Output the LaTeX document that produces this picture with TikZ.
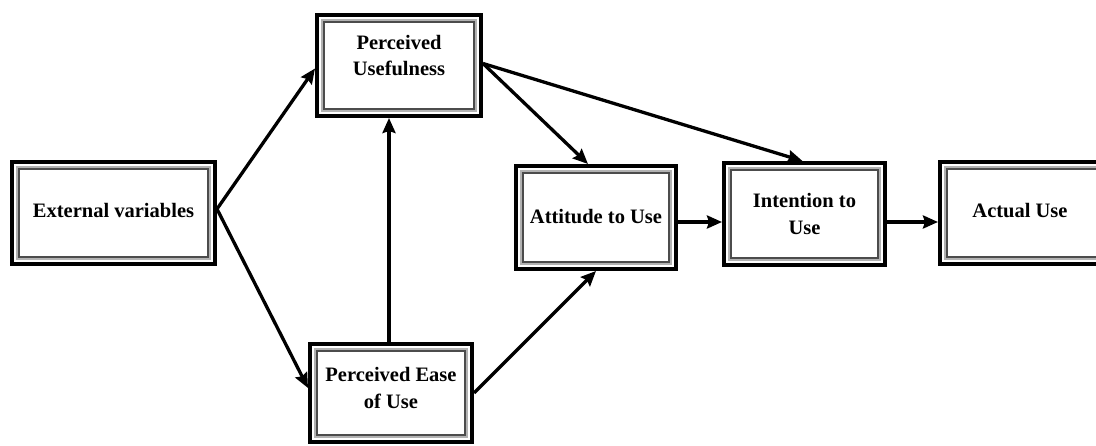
\documentclass[tikz,border=0pt]{standalone}
\usepackage{fontspec}
\setmainfont{Liberation Serif}
\usetikzlibrary{arrows.meta}
\tikzset{
  tambox/.style={draw=black, line width=4pt, fill=white, inner sep=0pt,
    align=center, font=\bfseries\fontsize{20.5}{27}\selectfont,
    path picture={
      \draw[black!30, line width=2pt]
        ([shift={(5pt,5pt)}]path picture bounding box.south west) rectangle
        ([shift={(-5pt,-5pt)}]path picture bounding box.north east);
      \draw[black!70, line width=1.6pt]
        ([shift={(6.8pt,6.8pt)}]path picture bounding box.south west) rectangle
        ([shift={(-6.8pt,-6.8pt)}]path picture bounding box.north east);
    }},
  conn/.style={line width=3.3pt, -{Stealth[length=15pt,width=13pt,inset=2pt]}}
}
\begin{document}
\begin{tikzpicture}[x=1pt,y=-1pt]
\useasboundingbox (0,0) rectangle (1096,446);
\node[tambox, minimum width=203pt, minimum height=102pt] (ext) at (113.5,213) {\raisebox{6pt}{External variables}};
\node[tambox, minimum width=164pt, minimum height=101pt] (pu) at (399,65.5) {Perceived\\[-1pt]Usefulness\\[-6pt]};
\node[tambox, minimum width=162pt, minimum height=98pt] (peou) at (391,393) {\\[-22pt]Perceived Ease\\of Use};
\node[tambox, minimum width=160pt, minimum height=103pt] (att) at (596,217.5) {\raisebox{3pt}{Attitude to Use}};
\node[tambox, minimum width=161pt, minimum height=102pt] (int) at (804.5,214) {Intention to\\Use};
\node[tambox, minimum width=180pt, minimum height=102pt] (act) at (1030,213) {\hspace*{-20pt}\raisebox{6pt}{Actual Use}};
\draw[conn] ([yshift=4pt]ext.east) -- ([yshift=-3pt]pu.west);
\draw[conn] ([yshift=4pt]ext.east) -- ([yshift=5pt]peou.west);
\draw[conn] ([xshift=-2pt]peou.north) -- ([xshift=-2pt]peou.north |- pu.south);
\draw[conn] ([yshift=2pt]pu.east) -- ([xshift=-8pt]att.north);
\draw[conn] ([yshift=2pt]pu.east) -- ([xshift=-2pt]int.north);
\draw[conn] (peou.east) -- (att.south);
\draw[conn] ([yshift=-4.5pt]att.east) -- ([yshift=-4.5pt]att.east -| int.west);
\draw[conn] ([yshift=-8pt]int.east) -- ([yshift=-8pt]int.east -| act.west);
\end{tikzpicture}
\end{document}
